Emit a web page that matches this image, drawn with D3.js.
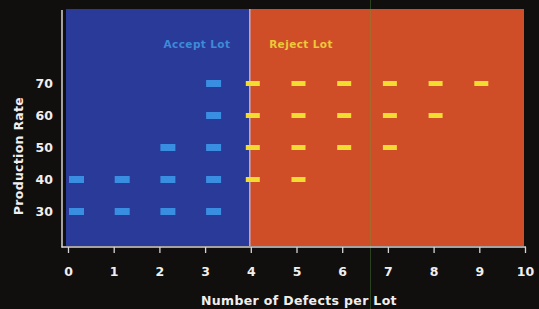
<!DOCTYPE html>
<html>
<head>
<meta charset="utf-8">
<script src="https://cdn.jsdelivr.net/npm/d3@7"></script>
<style>
  body { margin: 0; background: #110e0e; }
  svg { display: block; }
  text { font-family: "DejaVu Sans", Arial, sans-serif; font-weight: bold; }
</style>
</head>
<body>
<script>
// data
var xTicks = [0, 1, 2, 3, 4, 5, 6, 7, 8, 9, 10]
var yTicks = [30, 40, 50, 60, 70]
var acceptDefects = [0, 0, 1, 1, 2, 2, 2, 3, 3, 3, 3, 3]
var acceptRates   = [30, 40, 30, 40, 30, 40, 50, 30, 40, 50, 60, 70]
var rejectDefects = [4, 4, 4, 4, 5, 5, 5, 5, 6, 6, 6, 7, 7, 7, 8, 8, 9]
var rejectRates   = [40, 50, 60, 70, 40, 50, 60, 70, 50, 60, 70, 50, 60, 70, 60, 70, 70]
var cutoff = 4
var regionLabels = ["Accept Lot", "Reject Lot"]

var width = 539, height = 309
var x = d3.scaleLinear().domain([0, 10]).range([68, 525])
var y = d3.scaleLinear().domain([30, 70]).range([211.5, 83.5])

var svg = d3.select("body").append("svg").attr("width", width).attr("height", height)

// colored regions
svg.append("rect").attr("x", 66).attr("y", 9).attr("width", x(cutoff) - 1 - 66).attr("height", 246 - 9).attr("fill", "#2a3a98")
svg.append("rect").attr("x", x(cutoff) - 1).attr("y", 9).attr("width", 524 - x(cutoff) + 1).attr("height", 246 - 9).attr("fill", "#d04e27")
svg.append("line").attr("x1", x(cutoff) - 1).attr("x2", x(cutoff) - 1).attr("y1", 9).attr("y2", 246)
    .attr("stroke", "#c8c8e8").attr("stroke-width", 1.2)

// faint scanline artifact in the original
svg.append("line").attr("x1", 370.5).attr("x2", 370.5).attr("y1", 0).attr("y2", height)
    .attr("stroke", "#5aa040").attr("stroke-opacity", 0.35).attr("stroke-width", 1)

// region labels
svg.append("text").attr("x", 197).attr("y", 48).attr("text-anchor", "middle")
    .attr("font-size", 10.5).attr("letter-spacing", 0.4).attr("fill", "#3d8ad8").text(regionLabels[0])
svg.append("text").attr("x", 301).attr("y", 48).attr("text-anchor", "middle")
    .attr("font-size", 10.5).attr("letter-spacing", 0.4).attr("fill", "#ecc83a").text(regionLabels[1])

// dashes
var acc = acceptDefects.map(function (d, i) { return {def: d, rate: acceptRates[i]} })
var rej = rejectDefects.map(function (d, i) { return {def: d, rate: rejectRates[i]} })

svg.selectAll("rect.acc").data(acc).enter().append("rect").attr("class", "acc")
    .attr("x", function (d) { return x(d.def) + 1 })
    .attr("y", function (d) { return y(d.rate) - 3.5 })
    .attr("width", 15).attr("height", 7)
    .attr("fill", "#3a8ee2")

svg.selectAll("rect.rej").data(rej).enter().append("rect").attr("class", "rej")
    .attr("x", function (d) { return x(d.def) - 5 })
    .attr("y", function (d) { return y(d.rate) - 2.5 })
    .attr("width", 14).attr("height", 5)
    .attr("fill", "#f2dc30")

// axes
var axisColor = "#d8d4d4"
svg.append("line").attr("x1", 62).attr("x2", 62).attr("y1", 10).attr("y2", 247.5)
    .attr("stroke", axisColor).attr("stroke-width", 1.5)
svg.append("line").attr("x1", 61.5).attr("x2", 526).attr("y1", 247).attr("y2", 247)
    .attr("stroke", axisColor).attr("stroke-width", 1.5)

var xAxis = d3.axisBottom(x).tickValues(xTicks).tickSize(6).tickPadding(14)
var gx = svg.append("g").attr("transform", "translate(0,247)").call(xAxis)
gx.select(".domain").remove()
gx.selectAll("line").attr("stroke", axisColor).attr("stroke-width", 1.3)
gx.selectAll("text").attr("fill", "#f0eeee").attr("font-size", 12.5)

var yAxis = d3.axisLeft(y).tickValues(yTicks).tickSize(0).tickPadding(9)
var gy = svg.append("g").attr("transform", "translate(62,0)").call(yAxis)
gy.select(".domain").remove()
gy.selectAll("text").attr("fill", "#f0eeee").attr("font-size", 12.5)
svg.selectAll(".tick text").attr("font-family", "\"DejaVu Sans\", Arial, sans-serif").attr("font-weight", "bold")

// axis titles
svg.append("text").attr("x", 299).attr("y", 305).attr("text-anchor", "middle")
    .attr("font-size", 12.5).attr("letter-spacing", 0.35).attr("fill", "#f0eeee").text("Number of Defects per Lot")
svg.append("text").attr("transform", "translate(23,156) rotate(-90)").attr("text-anchor", "middle")
    .attr("font-size", 12.5).attr("letter-spacing", 0.3).attr("fill", "#f0eeee").text("Production Rate")
</script>
</body>
</html>
